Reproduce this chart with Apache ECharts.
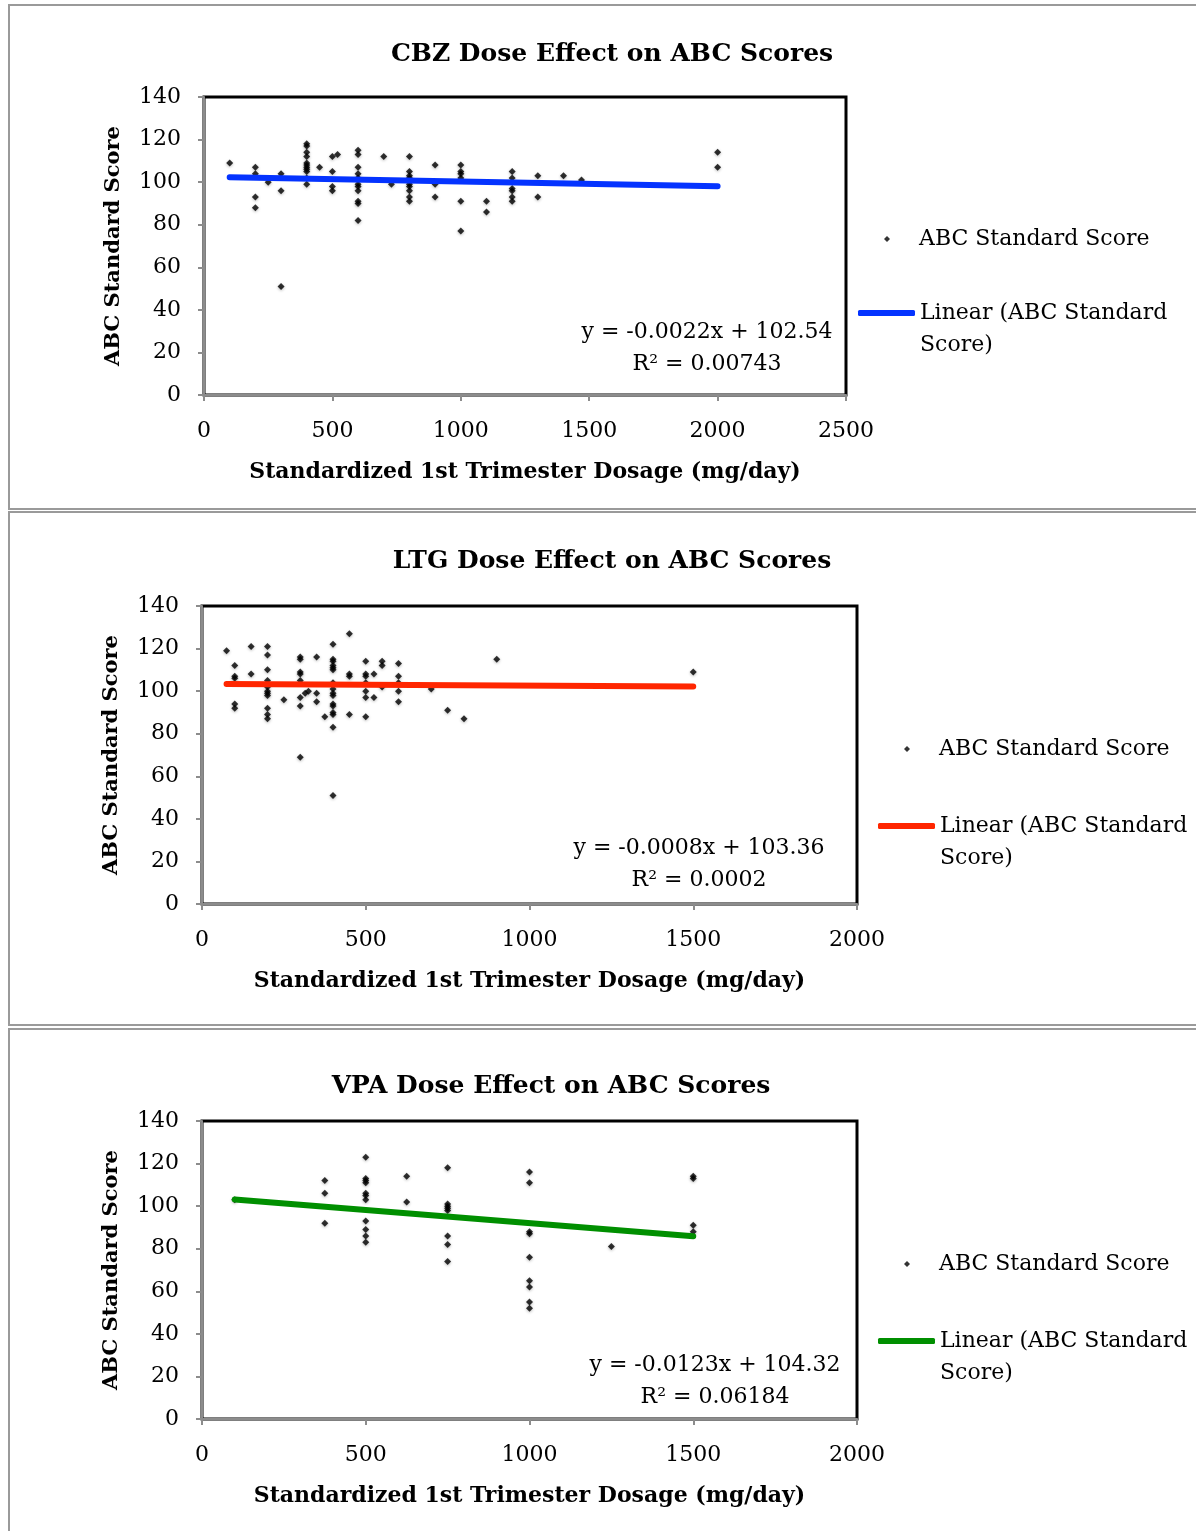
<!DOCTYPE html>
<html>
<head>
<meta charset="utf-8">
<script src="https://cdn.jsdelivr.net/npm/echarts@6/dist/echarts.min.js"></script>
<style>
  html, body { margin:0; padding:0; background:#fff; }
  #chart { width:1196px; height:1531px; }
</style>
</head>
<body>
<div id="chart"></div>
<script>
  // CBZ panel points [dose, score]
  var cbzPoints = [
    [100,109],[200,107],[200,104],[200,93],[200,88],[250,100],[300,104],[300,96],[300,51],
    [400,118],[400,117],[400,114],[400,112],[400,109],[400,108],[400,107],[400,106],[400,105],[400,102],[400,99],
    [450,107],[500,112],[500,105],[500,98],[500,96],[520,113],
    [600,115],[600,113],[600,107],[600,104],[600,102],[600,99],[600,98],[600,96],[600,91],[600,90],[600,82],
    [700,112],[730,99],
    [800,112],[800,105],[800,103],[800,102],[800,99],[800,98],[800,96],[800,93],[800,91],
    [900,108],[900,99],[900,93],
    [1000,108],[1000,105],[1000,104],[1000,102],[1000,91],[1000,77],
    [1100,91],[1100,86],
    [1200,105],[1200,102],[1200,97],[1200,96],[1200,93],[1200,91],
    [1300,103],[1300,93],[1400,103],[1470,101],[2000,114],[2000,107]
  ];
  var cbzTrend = [[100,102.3],[2000,98.1]];

  // LTG panel points
  var ltgPoints = [
    [75,119],[100,112],[100,107],[100,106],[100,94],[100,92],[150,121],[150,108],
    [200,121],[200,117],[200,110],[200,105],[200,102],[200,100],[200,99],[200,98],[200,92],[200,89],[200,87],
    [250,96],[300,116],[300,115],[300,109],[300,108],[300,105],[300,97],[300,93],[300,69],
    [315,99],[325,100],[350,116],[350,99],[350,95],[375,88],
    [400,122],[400,115],[400,114],[400,112],[400,111],[400,110],[400,104],[400,101],[400,99],[400,98],[400,94],[400,93],[400,90],[400,89],[400,83],[400,51],
    [450,127],[450,108],[450,107],[450,89],
    [500,114],[500,108],[500,107],[500,104],[500,100],[500,97],[500,88],
    [525,108],[525,97],[550,114],[550,112],[550,102],
    [600,113],[600,107],[600,104],[600,100],[600,95],
    [700,101],[750,91],[800,87],[900,115],[1500,109]
  ];
  var ltgTrend = [[75,103.3],[1500,102.2]];

  // VPA panel points
  var vpaPoints = [
    [100,103],[375,112],[375,106],[375,92],
    [500,123],[500,113],[500,112],[500,111],[500,106],[500,105],[500,103],[500,93],[500,89],[500,86],[500,83],
    [625,114],[625,102],
    [750,118],[750,101],[750,100],[750,99],[750,98],[750,86],[750,82],[750,74],
    [1000,116],[1000,111],[1000,88],[1000,87],[1000,76],[1000,65],[1000,62],[1000,55],[1000,52],
    [1250,81],[1500,114],[1500,113],[1500,91],[1500,88]
  ];
  var vpaTrend = [[100,103.1],[1500,85.9]];

  var titles = ['CBZ Dose Effect on ABC Scores', 'LTG Dose Effect on ABC Scores', 'VPA Dose Effect on ABC Scores'];
  var equations = [
    ['y = -0.0022x + 102.54', 'R\u00B2 = 0.00743'],
    ['y = -0.0008x + 103.36', 'R\u00B2 = 0.0002'],
    ['y = -0.0123x + 104.32', 'R\u00B2 = 0.06184']
  ];
  var yTicks = [0, 20, 40, 60, 80, 100, 120, 140];
  var xMaxes = [2500, 2000, 2000];
  var trendColors = ['#0433ff', '#ff2600', '#008f00'];

  var FONT = 'DejaVu Serif';
  var scatterName = 'ABC Standard Score';
  var lineName = 'Linear (ABC Standard Score)';

  // layout of each panel (pixels); legDot/legLine = y of the legend icons
  var panels = [
    {boxTop:4, boxH:504, left:204, top:97, width:642, titleX:607, titleY:37, eqX:707, eqY:316, legX:858, legDot:236, legLine:308},
    {boxTop:511, boxH:513, left:202, top:606, width:655, titleX:607, titleY:544, eqX:699, eqY:832, legX:878, legDot:746, legLine:821},
    {boxTop:1028, boxH:520, left:202, top:1121, width:655, titleX:546, titleY:1069, eqX:715, eqY:1349, legX:878, legDot:1261, legLine:1336}
  ];
  var PLOT_H = 298;

  var grids = [], xAxes = [], yAxes = [], series = [], legends = [], graphics = [], titleOpts = [];
  var pointSets = [cbzPoints, ltgPoints, vpaPoints];
  var trendSets = [cbzTrend, ltgTrend, vpaTrend];

  panels.forEach(function (p, i) {
    graphics.push({
      type:'rect', left:8, top:p.boxTop, silent:true, z:-10,
      shape:{width:1200, height:p.boxH},
      style:{fill:'#fff', stroke:'#9a9a9a', lineWidth:2}
    });
    titleOpts.push({
      text:titles[i], left:p.titleX, top:p.titleY, textAlign:'center',
      textStyle:{fontFamily:FONT, fontWeight:'bold', fontSize:25, color:'#000'}
    });
    grids.push({left:p.left, top:p.top, width:p.width, height:PLOT_H, show:true,
      borderColor:'#000', borderWidth:3, backgroundColor:'#fff'});
    xAxes.push({
      type:'value', gridIndex:i, min:0, max:xMaxes[i], interval:500,
      name:'Standardized 1st Trimester Dosage (mg/day)', nameLocation:'middle', nameGap:66,
      nameTextStyle:{fontFamily:FONT, fontWeight:'bold', fontSize:22, color:'#000'},
      axisLine:{show:true, onZero:false, lineStyle:{color:'#8c8c8c', width:2}},
      axisTick:{show:true, inside:false, length:6, lineStyle:{color:'#8c8c8c', width:2}},
      axisLabel:{fontFamily:FONT, fontSize:22, color:'#000', margin:25,
        formatter:function (v) { return String(v); }},
      splitLine:{show:false}
    });
    yAxes.push({
      type:'value', gridIndex:i, min:yTicks[0], max:yTicks[yTicks.length - 1], interval:20,
      name:'ABC Standard Score', nameLocation:'middle', nameGap:80, nameRotate:90,
      nameTextStyle:{fontFamily:FONT, fontWeight:'bold', fontSize:21, color:'#000'},
      axisLine:{show:true, onZero:false, lineStyle:{color:'#8c8c8c', width:2}},
      axisTick:{show:true, inside:false, length:6, lineStyle:{color:'#8c8c8c', width:2}},
      axisLabel:{fontFamily:FONT, fontSize:22, color:'#000', margin:23},
      splitLine:{show:false}
    });
    series.push({
      name:scatterName, type:'scatter', xAxisIndex:i, yAxisIndex:i, data:pointSets[i],
      symbol:'diamond', symbolSize:7, z:2,
      itemStyle:{color:'#000', shadowBlur:3, shadowColor:'rgba(0,0,0,0.35)', shadowOffsetY:1}
    });
    series.push({
      name:lineName, type:'line', xAxisIndex:i, yAxisIndex:i, data:trendSets[i],
      showSymbol:false, symbol:'none', z:3, color:trendColors[i],
      lineStyle:{color:trendColors[i], width:6, cap:'round'}
    });
    // small diamond centred over the line sample, text aligned with the line legend text
    legends.push({
      data:[scatterName], left:p.legX + 21, top:p.legDot - 13, orient:'vertical',
      icon:'diamond', itemWidth:6, itemHeight:6, itemGap:0, selectedMode:false,
      textStyle:{fontFamily:FONT, fontSize:22, color:'#000', padding:[0, 0, 0, 24]}
    });
    // blank first line so the icon sits level with "Linear (ABC Standard"
    legends.push({
      data:[{name:lineName, itemStyle:{color:trendColors[i]}}], left:p.legX - 5, top:p.legLine - 48, orient:'vertical',
      icon:'roundRect', itemWidth:57, itemHeight:6, itemGap:0, selectedMode:false,
      formatter:function () { return ' \nLinear (ABC Standard\nScore)'; },
      textStyle:{fontFamily:FONT, fontSize:22, color:'#000', lineHeight:32}
    });
    graphics.push({
      type:'text', x:p.eqX, y:p.eqY, silent:true, z:10,
      style:{text:equations[i][0] + '\n' + equations[i][1], fontFamily:FONT, fontSize:22,
        fill:'#000', align:'center', lineHeight:32}
    });
  });

  var myChart = echarts.init(document.getElementById('chart'), null, {renderer:'canvas'});
  myChart.setOption({
    animation:false,
    backgroundColor:'#fff',
    title:titleOpts,
    grid:grids,
    xAxis:xAxes,
    yAxis:yAxes,
    legend:legends,
    graphic:graphics,
    series:series
  });
</script>
</body>
</html>
